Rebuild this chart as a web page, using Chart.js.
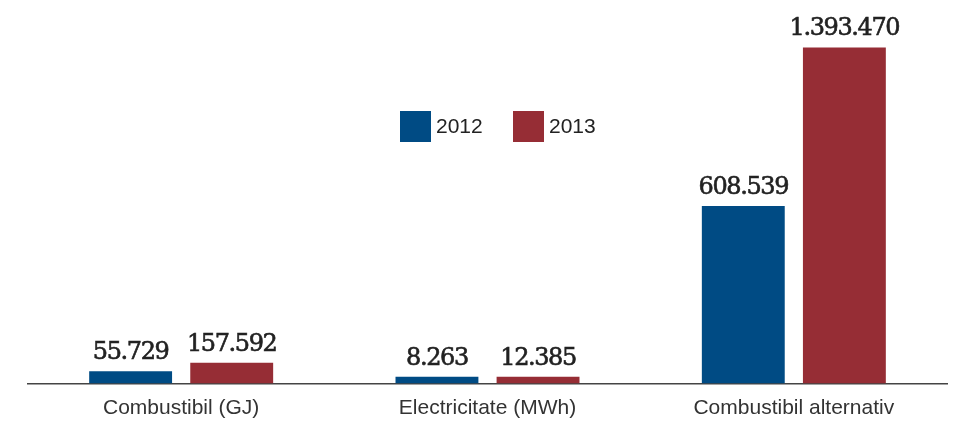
<!DOCTYPE html>
<html>
<head>
<meta charset="utf-8">
<script src="https://cdn.jsdelivr.net/npm/chart.js@4/dist/chart.umd.min.js"></script>
<style>
  html, body { margin: 0; padding: 0; background: #fff; }
  #wrap { width: 957px; height: 423px; }
</style>
</head>
<body>
<div id="wrap"><canvas id="myChart" width="957" height="423"></canvas></div>
<script>
// categories and values (labels show the real numbers)
var categories = ["Combustibil (GJ)", "Electricitate (MWh)", "Combustibil alternativ"];
var seriesNames = ["2012", "2013"];
var values2012 = [55729, 8263, 608539];
var values2013 = [157592, 12385, 1393470];
// bar heights as drawn in the picture (not to scale for the small values)
var barHeight2012 = [51000, 27800, 735900];
var barHeight2013 = [85800, 27800, 1393470];
var colors = ["#004b84", "#962d35"];

function fmt(n) {
  return String(n).replace(/\B(?=(\d{3})+(?!\d))/g, ".");
}

var valueLabels = {
  id: 'valueLabels',
  afterDatasetsDraw: function (chart) {
    var ctx = chart.ctx;
    var texts = [values2012, values2013];
    ctx.save();
    ctx.font = "24px 'DejaVu Serif'";
    ctx.letterSpacing = "-1.4px";
    ctx.fillStyle = "#222";
    ctx.strokeStyle = "#222";
    ctx.lineWidth = 0.6;
    ctx.textAlign = "center";
    ctx.textBaseline = "alphabetic";
    chart.data.datasets.forEach(function (ds, i) {
      chart.getDatasetMeta(i).data.forEach(function (bar, j) {
        ctx.fillText(fmt(texts[i][j]), bar.x, bar.y - 12);
        ctx.strokeText(fmt(texts[i][j]), bar.x, bar.y - 12);
      });
    });
    ctx.restore();
  }
};

var boxLegend = {
  id: 'boxLegend',
  afterDraw: function (chart) {
    var ctx = chart.ctx;
    var x = 400, y = 111, box = 31;
    ctx.save();
    ctx.font = "21px 'Liberation Sans'";
    ctx.textBaseline = "middle";
    chart.data.datasets.forEach(function (ds) {
      ctx.fillStyle = ds.backgroundColor;
      ctx.fillRect(x, y, box, box);
      ctx.fillStyle = "#222";
      ctx.fillText(ds.label, x + box + 5, y + box / 2 + 1);
      x += 113;
    });
    ctx.restore();
  }
};

var canvas = document.getElementById("myChart");
var chart = new Chart(canvas, {
  type: 'bar',
  data: {
    labels: categories,
    datasets: [
      { label: seriesNames[0], data: barHeight2012, backgroundColor: colors[0] },
      { label: seriesNames[1], data: barHeight2013, backgroundColor: colors[1] }
    ]
  },
  options: {
    responsive: false,
    animation: false,
    layout: { padding: { left: 28, right: 10, top: 0, bottom: 2 } },
    categoryPercentage: 0.66,
    barPercentage: 0.82,
    plugins: {
      legend: { display: false },
      title: { display: false },
      tooltip: { enabled: false }
    },
    scales: {
      x: {
        grid: { display: false, drawTicks: false },
        border: { display: true, color: "#444", width: 1.5 },
        ticks: { color: "#333", font: { family: "Liberation Sans", size: 21 }, padding: 12 },
        afterFit: function (scale) { scale.height = 37.5; }
      },
      y: { display: false, min: 0, max: 1590000 }
    }
  },
  plugins: [valueLabels, boxLegend]
});
</script>
</body>
</html>
